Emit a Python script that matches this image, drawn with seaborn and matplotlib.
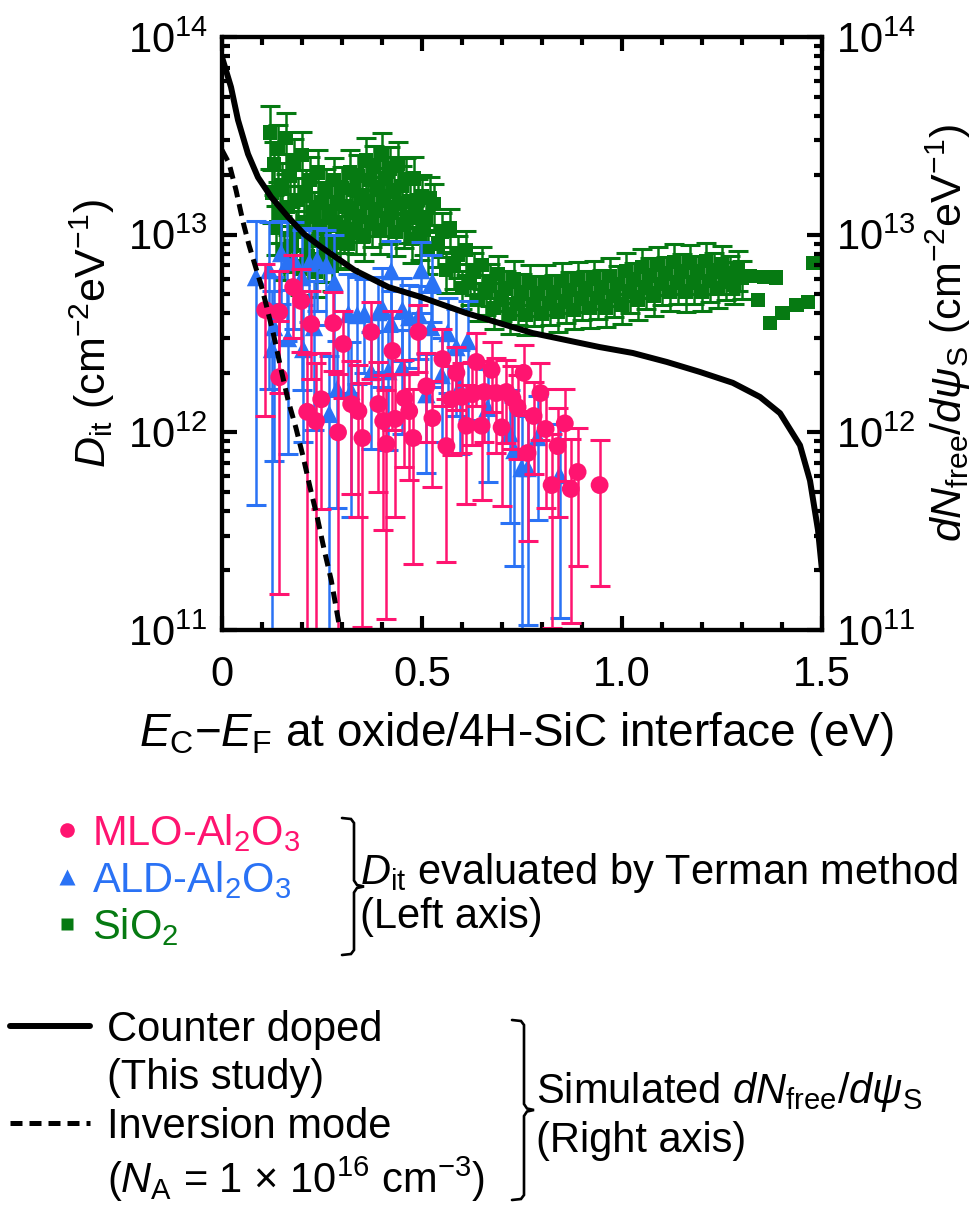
import numpy as np
import matplotlib
matplotlib.use("Agg")
import matplotlib.pyplot as plt
import seaborn as sns
from matplotlib.lines import Line2D
from matplotlib.ticker import LogLocator, MultipleLocator, NullFormatter, LogFormatterSciNotation, FixedLocator, FixedFormatter

# ---------------------------------------------------------------- data
E12 = 1e12

# MLO-Al2O3 : Terman Dit (units of 1e12 cm^-2 eV^-1), relative error
mlo_e = [0.108, 0.143, 0.143, 0.178, 0.198, 0.213, 0.223, 0.235, 0.248, 0.278,
         0.290, 0.303, 0.323, 0.341, 0.351, 0.373, 0.391, 0.403, 0.411, 0.426,
         0.433, 0.456, 0.468, 0.478, 0.491, 0.511, 0.526, 0.551, 0.561, 0.574,
         0.586, 0.599, 0.611, 0.626, 0.636, 0.649, 0.656, 0.674, 0.686, 0.699,
         0.711, 0.726, 0.739, 0.754, 0.764, 0.779, 0.796, 0.809, 0.824, 0.839,
         0.857, 0.872, 0.889, 0.944]
mlo_dit = [4.16, 4.06, 1.90, 5.43, 4.62, 1.27, 3.53, 1.14, 1.47, 3.57,
           1.00, 2.80, 1.39, 1.28, 0.936, 3.22, 1.39, 1.14, 0.873, 2.58,
           1.17, 1.49, 1.28, 0.936, 3.22, 1.71, 1.18, 2.35, 0.852, 1.47,
           2.00, 1.51, 1.08, 1.56, 2.27, 1.08, 1.60, 2.07, 1.58, 1.06,
           1.60, 1.49, 1.34, 2.00, 0.786, 1.21, 1.58, 1.04, 0.541, 0.852,
           1.11, 0.517, 0.630, 0.541]
mlo_rel = [0.71, 0.61, 0.92, 0.45, 0.45, 0.97, 0.47, 0.97, 0.72, 0.43,
           0.97, 0.47, 0.65, 0.71, 0.89, 0.42, 0.64, 0.72, 0.87, 0.60,
           0.68, 0.55, 0.55, 0.77, 0.37, 0.48, 0.55, 0.42, 0.74, 0.48,
           0.35, 0.48, 0.60, 0.45, 0.40, 0.58, 0.44, 0.39, 0.50, 0.60,
           0.45, 0.45, 0.45, 0.39, 0.64, 0.49, 0.42, 0.60, 0.81, 0.56,
           0.49, 0.79, 0.665, 0.69]

# ALD-Al2O3
ald_e = [0.085, 0.118, 0.125, 0.130, 0.148, 0.163, 0.165, 0.180, 0.200, 0.203,
         0.218, 0.230, 0.238, 0.261, 0.268, 0.281, 0.288, 0.316, 0.323, 0.338,
         0.356, 0.373, 0.391, 0.401, 0.416, 0.423, 0.423, 0.451, 0.451, 0.468,
         0.493, 0.498, 0.511, 0.523, 0.526, 0.549, 0.564, 0.586, 0.594, 0.614,
         0.664, 0.719, 0.731, 0.749, 0.764, 0.789, 0.844]
ald_dit = [6.10, 6.62, 2.64, 3.41, 8.07, 7.27, 3.00, 7.44, 6.10, 2.64,
           7.19, 3.41, 7.44, 7.02, 1.24, 5.76, 1.66, 3.97, 1.62, 3.92,
           3.97, 2.02, 4.06, 4.25, 2.04, 6.54, 3.57, 4.16, 2.14, 3.83,
           3.92, 6.62, 1.56, 3.41, 5.76, 1.95, 3.18, 2.70, 1.69, 2.90,
           1.33, 0.992, 0.814, 0.660, 0.660, 0.947, 0.608]
ald_rel = [0.93, 0.75, 0.97, 0.79, 0.45, 0.60, 0.74, 0.55, 0.73, 0.66,
           0.50, 0.70, 0.45, 0.50, 0.97, 0.73, 0.75, 0.60, 0.77, 0.55,
           0.50, 0.59, 0.50, 0.60, 0.60, 0.42, 0.45, 0.45, 0.54, 0.45,
           0.40, 0.39, 0.60, 0.50, 0.37, 0.54, 0.50, 0.55, 0.54, 0.60,
           0.58, 0.65, 0.74, 0.85, 0.84, 0.62, 0.81]

# SiO2 (with error bars)
sio2_e = [0.120, 0.125, 0.130, 0.135, 0.140, 0.145, 0.150, 0.155, 0.160, 0.165,
          0.170, 0.175, 0.180, 0.185, 0.190, 0.195, 0.200, 0.205, 0.210, 0.215,
          0.220, 0.225, 0.230, 0.235, 0.240, 0.245, 0.250, 0.255, 0.260, 0.265,
          0.270, 0.275, 0.280, 0.285, 0.290, 0.295, 0.300, 0.305, 0.310, 0.315,
          0.320, 0.325, 0.330, 0.335, 0.340, 0.345, 0.350, 0.355, 0.360, 0.365,
          0.370, 0.375, 0.380, 0.385, 0.390, 0.395, 0.400, 0.405, 0.410, 0.415,
          0.420, 0.425, 0.430, 0.435, 0.440, 0.445, 0.450, 0.455, 0.460, 0.465,
          0.470, 0.475, 0.480, 0.485, 0.490, 0.495, 0.500, 0.505, 0.510, 0.515,
          0.520,
          0.53, 0.54, 0.55, 0.56, 0.57, 0.58, 0.59, 0.60, 0.61, 0.62,
          0.63, 0.64, 0.65, 0.66, 0.67, 0.68, 0.69, 0.70, 0.71, 0.72,
          0.73, 0.74, 0.75, 0.76, 0.77, 0.78, 0.79, 0.80, 0.81, 0.82,
          0.83, 0.84, 0.85, 0.86, 0.87, 0.88, 0.89, 0.90, 0.91, 0.92,
          0.93, 0.94, 0.95, 0.96, 0.97, 0.98, 0.99, 1.00, 1.01, 1.02,
          1.03, 1.04, 1.05, 1.06, 1.07, 1.08, 1.09, 1.10, 1.11, 1.12,
          1.13, 1.14, 1.15, 1.16, 1.17, 1.18, 1.19, 1.20, 1.21, 1.22,
          1.23, 1.24, 1.25, 1.26, 1.27, 1.28, 1.29, 1.30]
sio2_dit = [33.0, 16.4, 22.7, 10.9, 27.1, 12.6, 17.8, 8.12, 30.8, 13.8,
            19.8, 8.76, 23.3, 10.3, 15.0, 6.70, 25.3, 11.6, 16.4, 7.79,
            18.9, 9.29, 12.9, 6.47, 20.7, 10.7, 14.5, 7.70, 16.6, 9.07,
            12.3, 6.94, 18.9, 11.1, 14.65, 9.07, 17.2, 10.9, 13.9, 8.97,
            20.7, 13.15, 16.8, 10.7, 19.8, 12.45, 15.9, 9.84, 23.8, 14.65,
            18.9, 11.6, 22.0, 13.3, 17.2, 10.5, 25.3, 15.35, 19.3, 11.9,
            21.7, 13.3, 16.6, 10.3, 23.0, 14.4, 17.6, 11.2, 19.1, 12.2,
            14.8, 9.51, 19.3, 12.6, 15.0, 9.84, 15.7, 10.55, 12.3, 8.36,
            15.35,
            14.3, 9.02, 10.3, 6.62, 10.75, 7.02, 7.93, 5.37, 8.36, 5.75,
            6.51, 4.67, 7.02, 5.09, 5.75, 4.26, 6.32, 4.68, 5.34, 3.97,
            5.96, 4.48, 5.12, 3.92, 5.72, 4.43, 5.05, 3.97, 5.69, 4.50,
            5.11, 4.07, 5.82, 4.60, 5.24, 4.16, 5.89, 4.74, 5.30, 4.26,
            5.96, 4.78, 5.40, 4.26, 6.18, 4.90, 5.63, 4.45, 6.54, 5.17,
            5.92, 4.67, 6.86, 5.41, 6.19, 4.89, 7.06, 5.62, 6.34, 5.13,
            7.27, 5.75, 6.48, 5.13, 7.20, 5.75, 6.40, 5.13, 7.35, 5.83,
            6.53, 5.37, 7.10, 5.96, 6.40, 5.56, 6.70, 6.03]
sio2_rel = [0.35, 0.30, 0.30, 0.28, 0.32, 0.28, 0.30, 0.27,
            0.34, 0.28, 0.30, 0.26, 0.31, 0.28, 0.29, 0.26,
            0.30, 0.28, 0.29, 0.25, 0.30, 0.27, 0.28, 0.25,
            0.30, 0.27, 0.28, 0.25, 0.29, 0.27, 0.28, 0.25,
            0.29, 0.27, 0.28, 0.25, 0.28, 0.26, 0.28, 0.25,
            0.29, 0.27, 0.28, 0.25, 0.28, 0.26, 0.27, 0.25,
            0.29, 0.27, 0.28, 0.25, 0.28, 0.26, 0.27, 0.24,
            0.29, 0.27, 0.28, 0.25, 0.28, 0.26, 0.27, 0.24,
            0.28, 0.26, 0.27, 0.24, 0.28, 0.26, 0.27, 0.24,
            0.28, 0.26, 0.27, 0.24, 0.27, 0.25, 0.26, 0.24,
            0.27,
            0.26, 0.24, 0.25, 0.23, 0.25, 0.24, 0.24, 0.22,
            0.25, 0.23, 0.24, 0.22, 0.24, 0.23, 0.24, 0.22,
            0.24, 0.22, 0.23, 0.21, 0.24, 0.22, 0.23, 0.21,
            0.23, 0.22, 0.23, 0.21, 0.24, 0.22, 0.23, 0.21,
            0.23, 0.22, 0.23, 0.20, 0.24, 0.22, 0.23, 0.21,
            0.23, 0.22, 0.22, 0.20, 0.24, 0.22, 0.23, 0.21,
            0.23, 0.22, 0.22, 0.21, 0.24, 0.22, 0.23, 0.21,
            0.23, 0.22, 0.22, 0.20, 0.24, 0.22, 0.23, 0.21,
            0.23, 0.22, 0.22, 0.20, 0.24, 0.22, 0.23, 0.21,
            0.23, 0.22, 0.22, 0.20, 0.23, 0.22]

# SiO2 points near the conduction band edge without error bars
sio2_tail_e = [1.320, 1.340, 1.357, 1.370, 1.385, 1.402, 1.437, 1.465, 1.478]
sio2_tail_dit = [6.18, 4.67, 6.10, 3.57, 6.05, 4.01, 4.40, 4.56, 7.19]

# simulated dN_free/dpsi_S (units of 1e12 cm^-2 eV^-1)
cd_e = [0.0, 0.0225, 0.040, 0.065, 0.090, 0.123, 0.165, 0.205, 0.248, 0.331,
        0.416, 0.498, 0.611, 0.776, 0.944, 1.027, 1.112, 1.195, 1.277, 1.345,
        1.395, 1.445, 1.470, 1.490, 1.500]
cd_dn = [79.1, 55.8, 38.0, 25.6, 19.5, 15.5, 12.3, 10.07, 8.65, 6.62,
         5.43, 4.83, 4.01, 3.18, 2.70, 2.52, 2.27, 2.02, 1.78, 1.51,
         1.25, 0.86, 0.57, 0.32, 0.20]
inv_e = [0.0, 0.0175, 0.035, 0.0526, 0.0676, 0.0826, 0.0977, 0.110, 0.128, 0.148,
         0.165, 0.185, 0.203, 0.220, 0.238, 0.255, 0.273, 0.293, 0.298]
inv_dn = [26.8, 23.0, 16.8, 11.6, 8.85, 7.01, 5.56, 4.46, 3.18, 2.07,
          1.46, 1.05, 0.750, 0.528, 0.373, 0.257, 0.179, 0.106, 0.094]

x_ticks = [0, 0.5, 1.0, 1.5]
x_tick_labels = ["0", "0.5", "1.0", "1.5"]
y_ticks = [1e11, 1e12, 1e13, 1e14]

# ---------------------------------------------------------------- style
PINK = "#FF1470"
BLUE = "#2A72F5"
GREEN = "#067A12"
FS = 30

sns.set_theme(style="ticks")
plt.rcParams.update({
    "font.family": ["Liberation Sans", "DejaVu Sans"],
    "mathtext.fontset": "custom",
    "mathtext.rm": "Liberation Sans",
    "mathtext.it": "Liberation Sans:italic",
    "mathtext.bf": "Liberation Sans:bold",
    "mathtext.sf": "Liberation Sans",
    "axes.edgecolor": "black",
    "axes.labelcolor": "black",
    "text.color": "black",
    "xtick.color": "black",
    "ytick.color": "black",
    "axes.unicode_minus": True,
})

W, H = 974, 1205


def fx(px):
    return px / W


def fy(py):
    return 1 - py / H


fig = plt.figure(figsize=(W / 100, H / 100), dpi=100)
ax = fig.add_axes([fx(222), fy(630), 600 / W, 593 / H])
ax2 = ax.twinx()

for a in (ax, ax2):
    a.set_yscale("log")
    a.set_ylim(1e11, 1e14)
ax.set_xlim(0, 1.5)

err_kw = dict(fmt="none", elinewidth=1.8, capsize=7.2, capthick=2.2)


def draw_series(e, dit, rel, color, marker, size, z):
    d = np.asarray(dit) * E12
    yerr = np.asarray(rel) * d
    ax.errorbar(e, d, yerr=yerr, ecolor=color, zorder=z, **err_kw)
    sns.scatterplot(x=e, y=d, ax=ax, marker=marker, s=size, color=color,
                    edgecolor="none", linewidth=0, zorder=z + 0.5, legend=False)


draw_series(sio2_e, sio2_dit, sio2_rel, GREEN, "s", 112, 2)
sns.scatterplot(x=sio2_tail_e, y=np.asarray(sio2_tail_dit) * E12, ax=ax, marker="s",
                s=112, color=GREEN, edgecolor="none", linewidth=0, zorder=2.5, legend=False)
draw_series(ald_e, ald_dit, ald_rel, BLUE, "^", 175, 4)
draw_series(mlo_e, mlo_dit, mlo_rel, PINK, "o", 165, 6)

LW = 4.3
DASH = (2.4, 1.4)
sns.lineplot(x=cd_e, y=np.asarray(cd_dn) * E12, ax=ax2, color="black", linewidth=LW,
             sort=False, estimator=None)
sns.lineplot(x=inv_e, y=np.asarray(inv_dn) * E12, ax=ax2, color="black", linewidth=3.6,
             sort=False, estimator=None, linestyle=(0, DASH))

# ---------------------------------------------------------------- axes
for a in (ax, ax2):
    for s in a.spines.values():
        s.set_linewidth(3)
        s.set_color("black")
    a.yaxis.set_major_locator(FixedLocator(y_ticks))
    a.yaxis.set_major_formatter(LogFormatterSciNotation())
    a.yaxis.set_minor_locator(LogLocator(base=10, subs=np.arange(2, 10)))
    a.yaxis.set_minor_formatter(NullFormatter())

ax.xaxis.set_major_locator(FixedLocator(x_ticks))
ax.xaxis.set_major_formatter(FixedFormatter(x_tick_labels))
ax.xaxis.set_minor_locator(MultipleLocator(0.1))

ax.tick_params(axis="x", which="both", direction="in", top=True, bottom=True,
               labelsize=FS, pad=18)
ax.tick_params(axis="x", which="major", length=10, width=3)
ax.tick_params(axis="x", which="minor", length=5.5, width=3)
ax.tick_params(axis="y", which="both", direction="in", left=True, right=False,
               labelsize=FS, pad=10)
ax.tick_params(axis="y", which="major", length=11, width=3)
ax.tick_params(axis="y", which="minor", length=6, width=3)
ax2.tick_params(axis="y", which="both", direction="in", right=True, left=False,
                labelsize=FS, pad=10)
ax2.tick_params(axis="y", which="major", length=11, width=3)
ax2.tick_params(axis="y", which="minor", length=6, width=3)

ax.set_xlabel(r"$\mathit{E}_{\mathrm{C}}$−$\mathit{E}_{\mathrm{F}}$ at oxide/4H-SiC interface (eV)",
              fontsize=33)
ax.xaxis.set_label_coords(0.49, -0.135)
ax.set_ylabel(r"$\mathit{D}_{\mathrm{it}}$ (cm$^{-2}$eV$^{-1}$)", fontsize=31)
ax.yaxis.set_label_coords(-0.175, 0.5)
ax2.set_ylabel(r"$\mathit{dN}_{\mathrm{free}}/\mathit{d\psi}_{\mathrm{S}}$ (cm$^{-2}$eV$^{-1}$)",
               fontsize=31, rotation=90)
ax2.yaxis.set_label_coords(1.17, 0.5)

# ---------------------------------------------------------------- legends
h1 = [Line2D([], [], ls="none", marker="o", markersize=10.5, color=PINK, mec="none"),
      Line2D([], [], ls="none", marker="^", markersize=11, color=BLUE, mec="none"),
      Line2D([], [], ls="none", marker="s", markersize=9, color=GREEN, mec="none")]
l1 = ["MLO-Al$_2$O$_3$", "ALD-Al$_2$O$_3$", "SiO$_2$"]
leg1 = fig.legend(h1, l1, loc="upper left", bbox_to_anchor=(fx(46), fy(812)),
                  frameon=False, fontsize=FS, handlelength=1.0, handletextpad=0.1,
                  labelspacing=0.12, borderpad=0, borderaxespad=0)
for t, c in zip(leg1.get_texts(), [PINK, BLUE, GREEN]):
    t.set_color(c)

blank = Line2D([], [], color="none")
h2 = [Line2D([], [], color="black", lw=LW),
      blank,
      Line2D([], [], color="black", lw=3.6, linestyle=(0, DASH)),
      blank]
l2 = ["Counter doped", "(This study)", "Inversion mode",
      r"($\mathit{N}_{\mathrm{A}}$ = 1 × 10$^{16}$ cm$^{-3}$)"]
leg2 = fig.legend(h2, l2, loc="upper left", bbox_to_anchor=(fx(10), fy(1010)),
                  frameon=False, fontsize=FS, handlelength=1.92, handletextpad=0.4,
                  labelspacing=0.2, borderpad=0, borderaxespad=0)


def brace(x0, xv, xt, top, bot):
    mid = (top + bot) / 2
    xs = [x0, xv - 3, xv, xv, xv + 3, xt, xv + 3, xv, xv, xv - 3, x0]
    ys = [top, top + 1, top + 5, mid - 6, mid - 1.5, mid, mid + 1.5, mid + 6, bot - 5, bot - 1, bot]
    fig.add_artist(Line2D([fx(v) for v in xs], [fy(v) for v in ys], color="black",
                          lw=1.9, transform=fig.transFigure, solid_joinstyle="miter"))


brace(342, 354, 364, 818, 955)
brace(512, 524, 534, 1020, 1200)

fig.text(fx(360), fy(884), r"$\mathit{D}_{\mathrm{it}}$ evaluated by Terman method",
         fontsize=FS, ha="left", va="baseline")
fig.text(fx(360), fy(928), "(Left axis)", fontsize=FS, ha="left", va="baseline")
fig.text(fx(536), fy(1103),
         r"Simulated $\mathit{dN}_{\mathrm{free}}/\mathit{d\psi}_{\mathrm{S}}$",
         fontsize=FS, ha="left", va="baseline")
fig.text(fx(536), fy(1152), "(Right axis)", fontsize=FS, ha="left", va="baseline")

fig.savefig("out.png", dpi=100)
